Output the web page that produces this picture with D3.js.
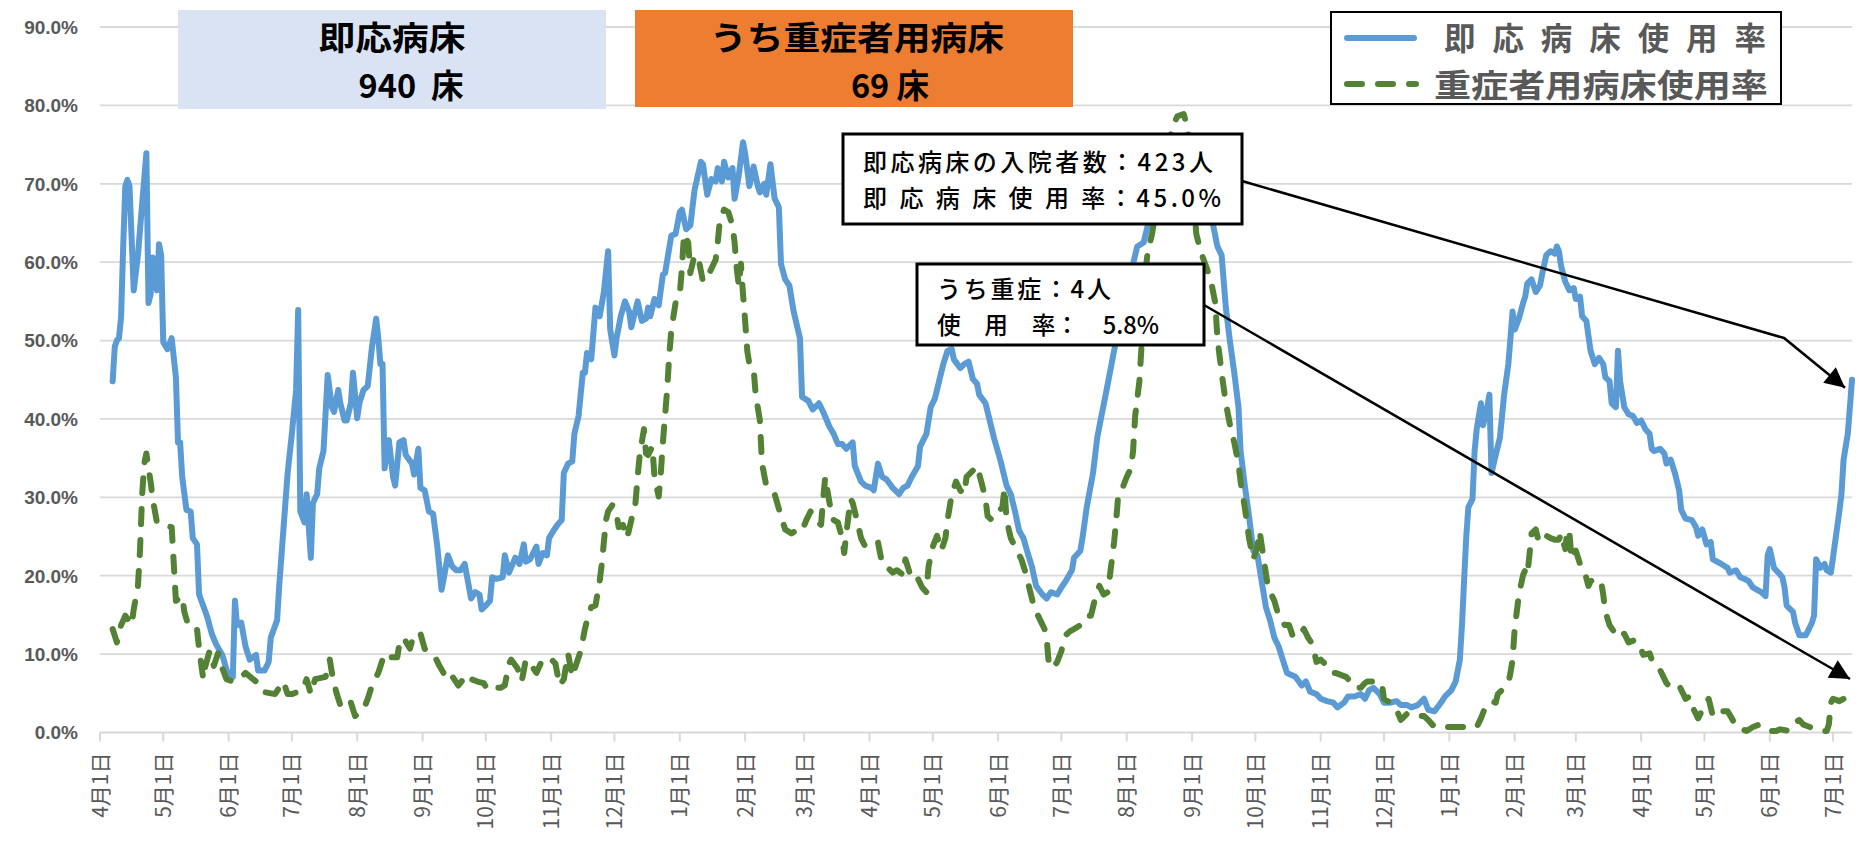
<!DOCTYPE html>
<html lang="ja">
<head>
<meta charset="utf-8">
<title>即応病床使用率</title>
<script src="https://cdn.jsdelivr.net/npm/d3@7"></script>
<style>
  html, body { margin: 0; padding: 0; background: #fff; }
  svg { display: block; font-family: "Noto Sans CJK JP", "Noto Sans", sans-serif; }
</style>
</head>
<body>
<svg id="chart" width="1874" height="844"></svg>
<script>
// day 0 = 2022-04-01, values are % of beds in use
const startDate = new Date(2022, 3, 1);
const endDay = 831;
const yTicks = [0, 10, 20, 30, 40, 50, 60, 70, 80, 90];

const bedRate = [
  [6,44.8],[7,49.2],[8,50.0],[9,50.3],[10,53.0],[11,62.0],[12,69.7],[13,70.5],[14,69.7],[16,56.4],
  [18,60.9],[20,67.5],[22,73.9],[23,54.8],[24,55.9],[25,60.6],[27,56.4],[28,62.3],[29,60.9],[30,49.8],
  [32,48.9],[34,50.3],[36,45.3],[37,37.0],[38,37.0],[39,32.6],[41,28.4],[43,28.2],[44,24.8],[46,24.0],
  [47,17.6],[50,15.4],[51,14.6],[53,12.6],[55,11.3],[58,9.9],[61,7.1],[63,7.1],[64,16.8],[65,13.7],
  [67,14.0],[69,11.0],[71,9.3],[74,9.9],[75,7.9],[78,7.9],[80,9.0],[81,12.1],[84,14.3],[85,18.7],
  [87,25.9],[89,33.1],[91,38.1],[93,43.7],[94,53.9],[95,28.2],[97,26.8],[98,30.4],[100,22.3],[101,29.3],
  [103,30.4],[104,33.7],[106,35.9],[108,45.6],[110,41.5],[111,40.9],[113,43.7],[114,42.0],[116,39.8],[117,39.8],
  [119,42.0],[120,45.9],[122,40.1],[123,42.0],[125,43.7],[127,44.2],[129,49.2],[131,52.8],[132,50.3],[133,47.0],
  [134,47.0],[135,33.7],[137,37.3],[139,32.6],[140,31.5],[142,37.0],[144,37.3],[145,35.4],[148,34.3],[149,32.9],
  [151,36.2],[152,31.2],[154,30.9],[156,28.2],[158,27.9],[160,23.7],[162,18.2],[163,19.6],[165,22.6],[167,21.2],
  [169,20.7],[171,20.7],[173,21.5],[176,17.1],[178,17.9],[180,17.6],[181,15.7],[183,16.2],[185,16.8],[186,19.8],
  [188,19.6],[191,19.8],[192,22.6],[194,20.4],[197,22.3],[199,21.5],[201,24.0],[202,21.8],[204,22.1],[207,23.7],
  [208,21.5],[210,22.9],[212,22.6],[213,24.8],[215,25.7],[217,26.5],[219,27.1],[220,33.1],[222,34.3],[224,34.6],
  [225,38.1],[227,40.4],[229,45.9],[230,45.9],[231,48.4],[233,47.6],[235,54.2],[237,53.1],[239,56.2],[241,61.4],
  [242,51.4],[244,48.1],[245,50.3],[247,53.1],[249,55.0],[251,53.7],[252,51.7],[255,55.0],[257,52.5],[259,52.8],
  [260,54.2],[261,53.1],[263,55.3],[265,54.5],[267,58.4],[268,58.6],[271,63.4],[273,63.6],[275,66.4],[276,66.7],
  [278,64.2],[280,64.7],[282,69.2],[285,72.8],[286,72.5],[288,68.6],[290,70.6],[292,70.3],[293,72.0],[295,70.3],
  [296,72.8],[298,70.8],[300,72.0],[301,68.1],[303,71.1],[305,75.3],[306,73.9],[308,69.7],[310,72.2],[312,69.7],
  [313,68.9],[315,70.0],[316,68.6],[318,72.5],[320,68.1],[322,67.0],[323,59.8],[325,57.8],[327,57.0],[329,53.7],
  [332,50.3],[333,42.8],[336,42.3],[338,41.2],[341,42.0],[343,40.9],[346,39.0],[348,38.1],[350,36.8],[352,36.8],
  [354,36.2],[357,37.0],[358,34.0],[361,32.0],[363,31.5],[366,31.2],[367,30.9],[369,34.3],[371,32.6],[373,32.3],
  [376,31.2],[379,30.4],[381,31.2],[383,31.5],[385,32.6],[388,34.0],[389,36.5],[392,38.1],[394,41.5],[396,42.6],
  [398,44.8],[400,47.0],[402,48.7],[404,48.9],[405,47.6],[408,46.5],[410,47.0],[412,47.3],[414,45.1],[416,44.5],
  [417,43.1],[420,42.0],[422,39.8],[424,37.6],[427,34.8],[430,31.5],[432,30.4],[434,28.2],[436,25.7],[438,24.8],
  [440,22.9],[442,21.2],[444,18.7],[447,17.6],[449,17.1],[451,17.9],[454,17.6],[456,18.5],[458,19.3],[461,20.7],
  [462,22.3],[465,23.2],[466,24.8],[468,28.7],[471,33.1],[473,37.6],[475,40.4],[477,43.1],[479,45.9],[481,48.7],
  [486,55.0],[490,59.8],[492,62.0],[495,62.5],[497,64.7],[500,67.5],[505,71.5],[510,73.5],[515,74.0],[520,72.0],
  [525,67.0],[528,64.7],[530,62.0],[532,60.9],[534,54.2],[536,49.8],[538,45.9],[540,41.5],[541,35.9],[543,31.5],
  [545,27.6],[547,23.2],[549,22.6],[551,19.3],[553,16.0],[555,14.3],[557,12.1],[559,11.0],[561,9.3],[563,7.6],
  [567,7.1],[570,6.0],[572,6.5],[574,5.2],[577,4.9],[579,4.3],[582,4.0],[585,3.8],[587,3.2],[590,3.8],
  [592,4.6],[595,4.6],[598,4.9],[600,4.3],[602,5.4],[604,5.7],[607,4.9],[609,3.8],[612,3.8],[615,4.0],
  [617,3.5],[620,3.5],[622,3.2],[625,3.5],[628,4.3],[630,2.9],[633,2.7],[636,3.8],[638,4.6],[641,5.4],
  [643,6.5],[645,9.3],[646,13.7],[647,19.3],[648,24.8],[649,28.7],[651,29.8],[652,35.9],[653,38.7],[655,42.0],
  [656,39.2],[658,41.5],[659,43.1],[660,33.1],[662,35.4],[664,37.6],[666,43.1],[668,47.0],[669,50.3],[670,53.7],
  [671,51.4],[673,52.8],[675,54.8],[676,55.6],[677,57.3],[679,57.8],[681,56.2],[683,57.0],[684,58.4],[686,60.9],
  [688,61.4],[690,61.1],[691,62.0],[692,61.4],[693,59.5],[695,57.5],[697,56.4],[699,56.7],[700,55.3],[702,55.6],
  [703,53.1],[705,52.5],[707,48.7],[709,47.0],[711,47.8],[713,47.0],[714,45.3],[716,44.8],[717,42.0],[719,41.5],
  [720,48.7],[721,44.8],[723,41.5],[725,40.6],[727,40.4],[729,39.5],[731,39.8],[733,38.7],[735,38.1],[736,36.2],
  [737,35.9],[740,36.2],[742,35.6],[743,34.3],[745,34.8],[747,33.1],[749,30.9],[750,28.4],[752,27.3],[755,27.1],
  [757,26.2],[758,25.1],[760,25.9],[762,24.0],[764,24.3],[765,22.1],[767,21.8],[769,21.5],[772,21.0],[773,20.4],
  [776,20.7],[778,19.8],[780,19.6],[782,19.3],[784,18.5],[786,18.2],[788,17.9],[790,17.4],[791,22.6],[792,23.4],
  [794,21.0],[796,20.4],[798,19.8],[799,18.5],[800,16.2],[803,15.4],[804,14.0],[806,12.4],[809,12.4],[810,12.9],
  [812,14.0],[813,14.9],[814,22.1],[816,21.0],[818,21.5],[819,20.7],[821,20.4],[823,24.3],[825,28.2],[826,30.4],
  [827,34.8],[829,38.1],[830,41.5],[831,45.0]
];

const severeRate = [
  [6,13.2],[8,11.5],[10,13.7],[12,14.9],[15,13.7],[16,15.7],[18,18.7],[19,23.4],[20,30.4],[21,34.3],
  [22,35.6],[23,33.7],[24,32.0],[25,29.8],[27,26.8],[29,26.5],[34,26.2],[35,21.5],[36,16.8],[39,17.4],
  [40,15.4],[42,13.5],[46,13.2],[47,10.7],[49,6.8],[50,8.5],[52,10.4],[54,8.5],[56,10.1],[58,8.2],
  [60,6.8],[63,6.5],[66,6.8],[69,7.6],[74,6.5],[77,5.2],[83,4.9],[87,6.5],[89,4.9],[91,4.9],
  [96,5.4],[98,6.8],[100,4.9],[102,6.8],[107,7.1],[109,9.3],[110,7.6],[112,5.2],[114,3.5],[117,4.3],
  [119,3.8],[121,2.1],[125,2.9],[127,4.3],[129,6.0],[132,7.6],[135,10.1],[138,9.6],[141,9.6],[142,11.3],
  [144,12.1],[147,10.7],[149,12.6],[152,12.6],[154,10.7],[156,10.1],[159,9.6],[161,8.5],[164,7.1],[166,7.6],
  [170,6.0],[174,7.4],[176,6.8],[179,6.5],[182,6.3],[184,5.4],[187,5.7],[190,5.7],[192,6.0],[194,8.8],
  [195,9.3],[198,8.2],[200,6.5],[202,9.3],[204,8.8],[207,7.6],[209,8.8],[213,9.6],[216,8.8],[218,6.0],
  [220,6.8],[222,10.1],[224,7.1],[226,8.8],[228,10.4],[230,13.2],[231,14.3],[233,16.0],[235,16.2],[237,19.3],
  [238,21.5],[239,24.3],[240,27.1],[241,28.2],[243,29.0],[245,27.9],[246,26.2],[248,26.5],[250,24.8],[252,27.1],
  [254,29.3],[255,32.6],[256,35.4],[258,38.7],[259,35.6],[260,35.4],[262,36.5],[263,32.6],[265,30.1],[266,33.1],
  [267,37.0],[268,40.4],[269,43.7],[270,48.1],[271,51.4],[273,54.8],[275,55.9],[276,59.2],[277,63.6],[279,62.5],
  [280,58.6],[282,60.9],[284,60.3],[286,57.5],[289,58.6],[292,60.3],[293,62.5],[294,65.3],[296,66.7],[298,66.4],
  [300,64.7],[301,62.5],[302,59.2],[303,57.0],[304,59.8],[305,55.9],[306,52.5],[307,48.7],[308,47.0],[310,46.5],
  [311,43.1],[313,39.8],[314,34.3],[316,31.5],[318,30.9],[320,30.4],[323,27.6],[325,25.9],[328,25.4],[331,25.9],
  [333,25.7],[335,27.1],[337,28.2],[339,27.1],[342,26.5],[343,29.8],[344,32.6],[346,29.3],[348,27.1],[350,26.8],
  [352,24.8],[353,22.9],[354,25.4],[356,29.8],[357,29.3],[359,27.1],[361,24.8],[363,23.7],[366,24.0],[369,24.3],
  [371,21.5],[373,21.2],[376,20.4],[378,20.7],[381,20.1],[382,22.1],[384,20.4],[386,20.7],[388,19.6],[390,18.5],
  [392,17.9],[393,21.2],[395,23.7],[397,25.1],[399,23.2],[401,24.8],[402,27.1],[404,30.4],[406,32.0],[408,30.9],
  [410,30.4],[411,32.6],[414,33.4],[416,34.0],[418,32.0],[420,29.8],[421,27.6],[423,27.1],[426,28.2],[428,28.7],
  [429,31.2],[430,27.1],[432,24.8],[434,23.7],[437,22.1],[439,20.4],[441,18.2],[443,16.0],[446,14.3],[448,13.2],
  [449,12.1],[450,8.8],[452,8.2],[454,9.0],[456,10.4],[458,12.4],[460,12.9],[462,13.2],[465,13.7],[468,14.9],
  [470,14.9],[472,17.1],[474,18.7],[476,17.6],[478,17.9],[480,22.1],[481,24.3],[482,27.1],[483,30.4],[485,31.2],
  [487,32.6],[489,33.7],[490,35.9],[491,40.4],[493,44.8],[494,49.2],[495,54.8],[496,59.2],[497,61.4],[499,63.6],
  [502,68.5],[506,74.0],[509,77.5],[511,78.6],[514,78.9],[516,77.0],[518,70.0],[520,63.6],[522,61.4],[525,59.2],
  [527,57.5],[529,54.8],[530,50.3],[532,45.9],[534,42.0],[536,39.2],[538,37.0],[540,34.3],[541,32.0],[543,28.7],
  [545,24.8],[547,22.1],[549,23.7],[550,25.7],[552,22.1],[554,18.5],[557,16.8],[559,14.9],[562,13.7],[564,13.7],
  [566,12.1],[569,12.6],[571,13.2],[573,12.1],[575,11.3],[577,9.0],[579,9.3],[582,8.5],[584,7.6],[586,7.6],
  [591,7.1],[593,6.5],[595,5.7],[598,5.7],[600,6.3],[601,6.5],[604,6.5],[606,6.3],[608,6.3],[609,4.3],
  [612,3.8],[615,2.9],[617,1.6],[620,2.4],[623,2.4],[625,2.1],[628,2.1],[630,1.6],[633,0.7],[637,0.7],
  [640,0.7],[644,0.7],[648,0.7],[651,0.7],[653,0.7],[655,1.8],[657,3.2],[660,4.0],[662,3.8],[663,4.9],
  [666,5.7],[668,6.3],[669,7.6],[670,9.3],[671,13.2],[672,15.4],[673,17.6],[675,20.1],[676,20.7],[677,20.1],
  [678,22.6],[679,25.4],[681,25.9],[682,24.8],[684,25.7],[686,25.1],[688,24.8],[690,24.6],[692,24.6],[693,25.4],
  [695,23.4],[696,25.9],[697,25.4],[698,22.1],[700,23.2],[702,21.5],[704,20.7],[706,18.7],[707,19.3],[709,19.6],
  [712,19.3],[713,17.6],[714,15.4],[716,13.7],[718,12.9],[719,13.2],[721,12.4],[723,12.6],[725,11.5],[728,11.8],
  [730,11.3],[732,9.9],[735,10.1],[736,9.3],[739,8.5],[741,7.4],[743,6.3],[744,6.0],[747,5.7],[749,6.0],
  [751,4.9],[752,4.3],[754,4.6],[756,2.9],[758,1.8],[760,2.9],[763,4.3],[765,2.1],[767,2.1],[769,2.7],
  [772,2.7],[774,1.8],[776,0.7],[779,0.4],[781,0.2],[784,0.7],[787,1.0],[789,0.7],[792,0.2],[795,0.2],
  [797,0.4],[801,0.2],[804,1.3],[806,1.6],[808,1.0],[811,0.7],[813,0.4],[816,0.2],[819,0.2],[820,1.0],
  [821,3.8],[822,4.3],[825,4.0],[827,4.3],[828,4.9],[830,5.7],[831,5.8]
];

const legendLabels = ["即 応 病 床 使 用 率", "重症者用病床使用率"];
const bedsTitle = ["即応病床", "940  床"];
const severeBedsTitle = ["うち重症者用病床", "69 床"];
const bedNote = ["即応病床の入院者数：423人", "即 応 病 床 使 用 率：45.0%"];
const severeNote = ["うち重症：4人", "使　用　率：　5.8%"];

const blue = "#5B9BD5";
const green = "#548235";
const gray = "#595959";
const gridColor = "#d9d9d9";

const svg = d3.select("#chart");
const plot = { left: 100, right: 1852, top: 27, bottom: 732.5 };

const dayToDate = d => d3.timeDay.offset(startDate, d);

const x = d3.scaleTime()
    .domain([startDate, dayToDate(endDay)])
    .range([plot.left, plot.right]);

const y = d3.scaleLinear()
    .domain([0, 90])
    .range([plot.bottom, plot.top]);

// grid
svg.append("g")
    .selectAll("line")
    .data(yTicks.filter(t => t > 0))
    .enter()
    .append("line")
    .attr("x1", plot.left)
    .attr("x2", plot.right)
    .attr("y1", d => y(d))
    .attr("y2", d => y(d))
    .attr("stroke", gridColor)
    .attr("stroke-width", 1.8);

// y labels
svg.append("g")
    .selectAll("text")
    .data(yTicks)
    .enter()
    .append("text")
    .attr("x", 78)
    .attr("y", d => y(d))
    .attr("dy", "0.36em")
    .attr("text-anchor", "end")
    .attr("fill", gray)
    .style("font-family", "'Liberation Sans', Arial, sans-serif")
    .style("font-weight", "bold")
    .style("font-size", "19px")
    .text(d => d.toFixed(1) + "%");

// x axis
const monthTicks = x.ticks(d3.timeMonth.every(1));
const fmt = d3.timeFormat("%-m月%-d日");

svg.append("line")
    .attr("x1", plot.left)
    .attr("x2", plot.right)
    .attr("y1", plot.bottom)
    .attr("y2", plot.bottom)
    .attr("stroke", gridColor)
    .attr("stroke-width", 2);

svg.append("g")
    .selectAll("line")
    .data(monthTicks)
    .enter()
    .append("line")
    .attr("x1", d => x(d))
    .attr("x2", d => x(d))
    .attr("y1", plot.bottom)
    .attr("y2", plot.bottom + 9)
    .attr("stroke", gridColor)
    .attr("stroke-width", 2);

svg.append("g")
    .selectAll("text")
    .data(monthTicks)
    .enter()
    .append("text")
    .attr("transform", d => `translate(${x(d)},${plot.bottom + 20}) rotate(-90)`)
    .attr("dy", "0.36em")
    .attr("text-anchor", "end")
    .attr("fill", gray)
    .style("font-size", "21px")
    .text(d => fmt(d));

// series
const line = d3.line()
    .x(d => x(dayToDate(d[0])))
    .y(d => y(d[1]));

svg.append("path")
    .datum(bedRate)
    .attr("d", line)
    .attr("fill", "none")
    .attr("stroke", blue)
    .attr("stroke-width", 6)
    .attr("stroke-linejoin", "round")
    .attr("stroke-linecap", "round");

svg.append("path")
    .datum(severeRate)
    .attr("d", line)
    .attr("fill", "none")
    .attr("stroke", green)
    .attr("stroke-width", 6)
    .attr("stroke-linejoin", "round")
    .attr("stroke-linecap", "round")
    .attr("stroke-dasharray", "15 16");

// one <text> per box, one <tspan> per line
function textBlock(g, rows, opts) {
    const t = g.append("text")
        .attr("text-anchor", opts.anchor || "start")
        .attr("fill", opts.fill || "#000")
        .style("font-size", opts.size + "px")
        .style("font-weight", opts.weight || "normal")
        .style("white-space", "pre");
    rows.forEach(r => {
        const s = t.append("tspan")
            .attr("x", r.x)
            .attr("y", r.y)
            .text(r.text);
        if (r.width) {
            s.attr("textLength", r.width).attr("lengthAdjust", r.adjust || "spacingAndGlyphs");
        }
    });
    return t;
}

// header boxes
const header = svg.append("g");
header.append("rect")
    .attr("x", 178).attr("y", 10).attr("width", 428).attr("height", 99)
    .attr("fill", "#DAE3F3");
textBlock(header, [
    { text: bedsTitle[0], x: 392, y: 50, width: 147 },
    { text: bedsTitle[1], x: 411, y: 98 }
], { anchor: "middle", size: 32.5, weight: "bold" });

header.append("rect")
    .attr("x", 635).attr("y", 10).attr("width", 438).attr("height", 97)
    .attr("fill", "#ED7D31");
textBlock(header, [
    { text: severeBedsTitle[0], x: 857, y: 50, width: 294 },
    { text: severeBedsTitle[1], x: 890, y: 98 }
], { anchor: "middle", size: 32.5, weight: "bold" });

// legend
const legend = svg.append("g");
legend.append("rect")
    .attr("x", 1331).attr("y", 12).attr("width", 450).attr("height", 92)
    .attr("fill", "#fff").attr("stroke", "#000").attr("stroke-width", 2);
legend.append("line")
    .attr("x1", 1347).attr("x2", 1414).attr("y1", 38).attr("y2", 38)
    .attr("stroke", blue).attr("stroke-width", 6).attr("stroke-linecap", "round");
legend.append("line")
    .attr("x1", 1347).attr("x2", 1416).attr("y1", 84).attr("y2", 84)
    .attr("stroke", green).attr("stroke-width", 6).attr("stroke-linecap", "round")
    .attr("stroke-dasharray", "15 16");
textBlock(legend, [
    { text: legendLabels[0], x: 1444, y: 50, width: 322, adjust: "spacing" },
    { text: legendLabels[1], x: 1434, y: 96.5, width: 334 }
], { size: 31.5, weight: "bold", fill: gray });

// call-outs
const lastBed = bedRate[bedRate.length - 1];
const lastSevere = severeRate[severeRate.length - 1];
const tipBed = [x(dayToDate(lastBed[0])) - 7, y(lastBed[1]) + 8];
const tipSevere = [x(dayToDate(lastSevere[0])) - 2, y(lastSevere[1]) - 8];

svg.append("defs").append("marker")
    .attr("id", "arrow")
    .attr("viewBox", "0 0 10 10")
    .attr("refX", 10).attr("refY", 5)
    .attr("markerUnits", "userSpaceOnUse")
    .attr("markerWidth", 24).attr("markerHeight", 20)
    .attr("orient", "auto")
    .append("path")
    .attr("d", "M0,0L10,5L0,10z")
    .attr("fill", "#000");

const notes = svg.append("g");
notes.append("path")
    .attr("d", d3.line()([[1242, 181], [1784, 338], tipBed]))
    .attr("fill", "none").attr("stroke", "#000").attr("stroke-width", 2.5)
    .attr("marker-end", "url(#arrow)");
notes.append("path")
    .attr("d", d3.line()([[1204, 305], tipSevere]))
    .attr("fill", "none").attr("stroke", "#000").attr("stroke-width", 2.5)
    .attr("marker-end", "url(#arrow)");

notes.append("rect")
    .attr("x", 843).attr("y", 134).attr("width", 399).attr("height", 90)
    .attr("fill", "#fff").attr("stroke", "#000").attr("stroke-width", 3);
textBlock(notes, [
    { text: bedNote[0], x: 863, y: 171, width: 350, adjust: "spacing" },
    { text: bedNote[1], x: 863, y: 207, width: 358, adjust: "spacing" }
], { size: 24, weight: 500 });

notes.append("rect")
    .attr("x", 917).attr("y", 264).attr("width", 287).attr("height", 81)
    .attr("fill", "#fff").attr("stroke", "#000").attr("stroke-width", 3);
textBlock(notes, [
    { text: severeNote[0], x: 937, y: 298, width: 174, adjust: "spacing" },
    { text: severeNote[1], x: 937, y: 334, width: 222 }
], { size: 24, weight: 500 });
</script>
</body>
</html>
